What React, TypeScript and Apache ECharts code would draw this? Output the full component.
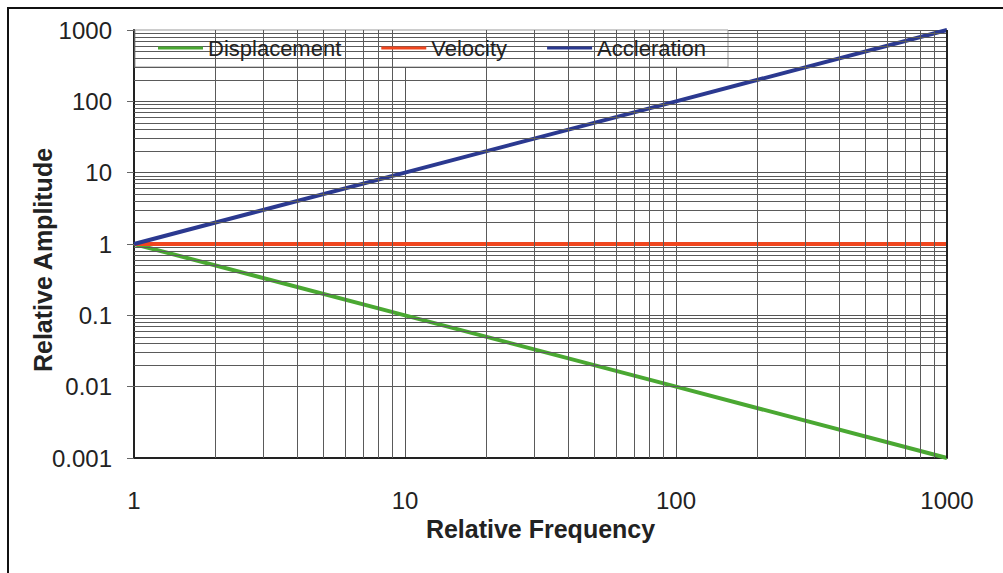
import React, { useEffect, useRef } from "react";
import * as echarts from "echarts";

const frequency = [1, 10, 100, 1000];
const displacement = [1, 0.1, 0.01, 0.001];
const velocity = [1, 1, 1, 1];
const acceleration = [1, 10, 100, 1000];

const seriesNames = ["Displacement", "Velocity", "Accleration"];
const seriesColors = ["#4aa832", "#f0461e", "#2b3990"];

const xTickLabels: Record<string, string> = { "0": "1", "1": "10", "2": "100", "3": "1000" };
const yTickLabels: Record<string, string> = {
  "-3": "0.001", "-2": "0.01", "-1": "0.1", "0": "1", "1": "10", "2": "100", "3": "1000",
};

const xMinorGrid = [2, 3, 4, 5, 6, 7, 8, 9, 20, 30, 40, 50, 60, 70, 80, 90, 200, 300, 400, 500, 600, 700, 800, 900];
const yMinorGrid = [
  0.002, 0.003, 0.004, 0.005, 0.006, 0.007, 0.008, 0.009,
  0.02, 0.03, 0.04, 0.05, 0.06, 0.07, 0.08, 0.09,
  0.2, 0.3, 0.4, 0.5, 0.6, 0.7, 0.8, 0.9,
  2, 3, 4, 5, 6, 7, 8, 9,
  20, 30, 40, 50, 60, 70, 80, 90,
  200, 300, 400, 500, 600, 700, 800, 900,
];

const FONT = "'Liberation Sans', Arial, sans-serif";

export default function App() {
  const ref = useRef<HTMLDivElement>(null);
  useEffect(() => {
    document.body.style.margin = "0";
    const chart = echarts.init(ref.current!, null, { renderer: "svg" });
    const pairs = (ys: number[]) => frequency.map((f, i) => [f, ys[i]]);
    const gridLineData: any[] = [
      ...xMinorGrid.map((v) => ({ xAxis: v })),
      ...yMinorGrid.map((v) => ({ yAxis: v })),
      { xAxis: 1000, lineStyle: { color: "#222", width: 2 } },
    ];
    chart.setOption({
      animation: false,
      backgroundColor: "#ffffff",
      textStyle: { fontFamily: FONT },
      grid: { left: 134, right: 56, top: 30, bottom: 115, containLabel: false },
      legend: {
        data: seriesNames,
        left: 158,
        top: 36,
        padding: 0,
        icon: "rect",
        itemWidth: 45,
        itemHeight: 3,
        itemGap: 40,
        z: 6,
        textStyle: { fontSize: 22, color: "#222", fontFamily: FONT, lineHeight: 24 },
      },
      xAxis: {
        type: "log",
        logBase: 10,
        min: 1,
        max: 1000,
        splitNumber: 3,
        axisLine: { show: true, lineStyle: { color: "#222", width: 2 } },
        axisTick: { show: false },
        axisLabel: {
          fontSize: 24,
          color: "#222",
          margin: 30,
          fontFamily: FONT,
          formatter: (v: number) => xTickLabels[String(Math.round(Math.log10(v)))] ?? "",
        },
        splitLine: { show: true, lineStyle: { color: "#555", width: 1 } },
        name: "Relative Frequency",
        nameLocation: "middle",
        nameGap: 56,
        nameTextStyle: { fontSize: 25, fontWeight: "bold", color: "#222", fontFamily: FONT },
      },
      yAxis: {
        type: "log",
        logBase: 10,
        min: 0.001,
        max: 1000,
        splitNumber: 6,
        axisLine: { show: true, lineStyle: { color: "#222", width: 2 } },
        axisTick: { show: true, length: 7, lineStyle: { color: "#666", width: 1 } },
        axisLabel: {
          fontSize: 24,
          color: "#222",
          margin: 22,
          fontFamily: FONT,
          formatter: (v: number) => yTickLabels[String(Math.round(Math.log10(v)))] ?? "",
        },
        splitLine: { show: true, lineStyle: { color: "#555", width: 1 } },
      },
      graphic: [
        { type: "rect", shape: { x: 7, y: 7, width: 996, height: 2 }, style: { fill: "#111" }, z: 10 },
        { type: "rect", shape: { x: 7, y: 7, width: 2, height: 566 }, style: { fill: "#111" }, z: 10 },
        {
          type: "rect",
          shape: { x: 135, y: 30, width: 593, height: 37 },
          style: { fill: "#ffffff", stroke: "#999", lineWidth: 1 },
          z: 5,
        },
        {
          type: "text",
          x: 43,
          y: 260,
          rotation: Math.PI / 2,
          style: {
            text: "Relative Amplitude",
            font: `bold 25px ${FONT}`,
            fill: "#222",
            align: "center",
            verticalAlign: "middle",
          },
          z: 10,
        },
      ],
      series: [
        {
          name: "grid",
          type: "line",
          data: [],
          z: 1,
          silent: true,
          markLine: {
            silent: true,
            symbol: ["none", "none"],
            label: { show: false },
            emphasis: { disabled: true },
            lineStyle: { color: "#5a5a5a", width: 1, type: "solid" },
            data: gridLineData,
          },
        },
        {
          name: seriesNames[0],
          type: "line",
          data: pairs(displacement),
          symbol: "none",
          lineStyle: { color: seriesColors[0], width: 4 },
          itemStyle: { color: seriesColors[0] },
          z: 3,
        },
        {
          name: seriesNames[1],
          type: "line",
          data: pairs(velocity),
          symbol: "none",
          lineStyle: { color: seriesColors[1], width: 4 },
          itemStyle: { color: seriesColors[1] },
          z: 3,
        },
        {
          name: seriesNames[2],
          type: "line",
          data: pairs(acceleration),
          symbol: "none",
          lineStyle: { color: seriesColors[2], width: 4 },
          itemStyle: { color: seriesColors[2] },
          z: 3,
        },
      ],
    });
    return () => chart.dispose();
  }, []);
  return (
    <div
      ref={ref}
      style={{ position: "absolute", left: 0, top: 0, width: 1003, height: 573, background: "#fff" }}
    />
  );
}
